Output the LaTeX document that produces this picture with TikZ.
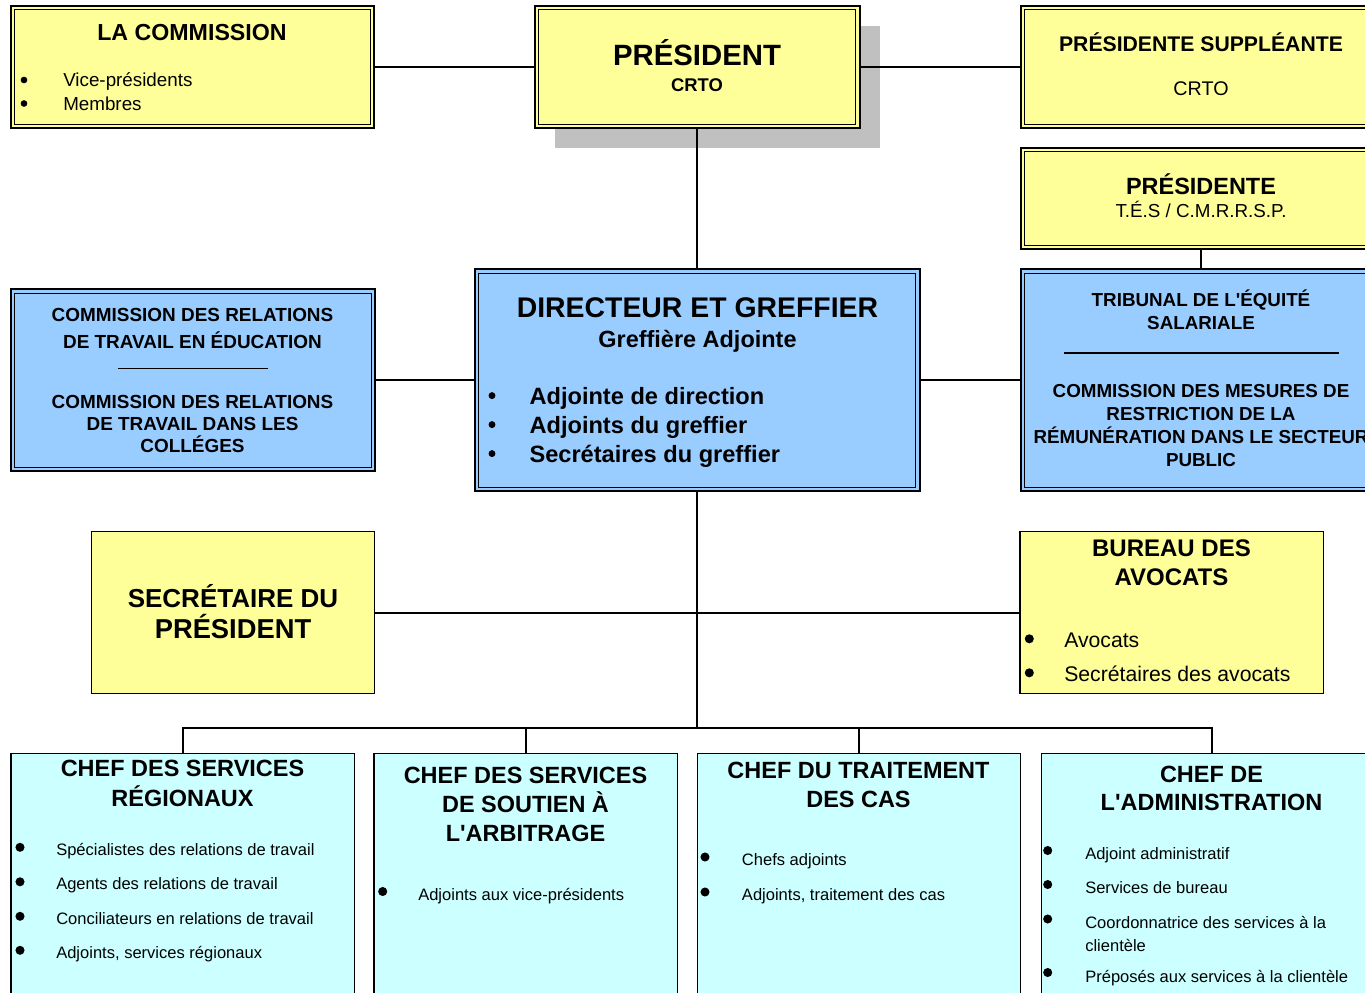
\documentclass[tikz,border=0pt]{standalone}
\usepackage{fontspec}
\setmainfont{Liberation Sans}
\usepackage{xcolor}
\usetikzlibrary{positioning,fit,shadows}

\definecolor{boxyellow}{HTML}{FFFF99}
\definecolor{boxblue}{HTML}{99CCFF}
\definecolor{boxcyan}{HTML}{CCFFFF}
\definecolor{shadowgray}{HTML}{C0C0C0}

\newcommand{\fsz}[2]{\fontsize{#1}{#2}\selectfont}
\newcommand{\apos}{\textquotesingle}

\tikzset{%
     boxframe/.style = { draw, line width=1.1pt, inner sep=0pt },
     dblframe/.style = { boxframe, line width=1.5pt,
                         path picture={\draw[line width=0.7pt]
                           ([shift={(2.8pt,-2.8pt)}]path picture bounding box.north west) rectangle
                           ([shift={(-2.8pt,2.8pt)}]path picture bounding box.south east);} },
       shadowed/.style = { drop shadow={shadow xshift=15pt, shadow yshift=-15pt, fill=shadowgray, opacity=1} },
         link/.style = { line width=1.5pt },
      divider/.style = { line width=1.1pt },
       boxtitle/.style = { inner sep=0pt, anchor=base, align=center },
      listitem/.style = { inner sep=0pt, anchor=base west, align=left }
}

\begin{document}
\begin{tikzpicture}[x=0.75pt, y=-0.75pt]
  \useasboundingbox (0,0) rectangle (1365,993);

  % top row
  \node[dblframe, fill=boxyellow, fit={(10.7,6) (374,128)}] (comm) {};
  \node[dblframe, shadowed, fill=boxyellow, fit={(535,6) (859.5,128)}] (pres) {};
  \node[dblframe, fill=boxyellow, fit={(1020.7,6) (1382,128)}] (supp) {};
  \node[dblframe, fill=boxyellow, fit={(1020.7,148) (1382,249)}] (tes) {};

  % middle rows
  \node[dblframe, fill=boxblue, fit={(10.7,289.3) (375,470.7)}] (crt) {};
  \node[dblframe, fill=boxblue, fit={(475,269.3) (919.5,490.7)}] (dir) {};
  \node[dblframe, fill=boxblue, fit={(1020.7,269.3) (1382,490.7)}] (trib) {};
  \node[boxframe, fill=boxyellow, fit={(91.7,531.7) (374.3,693.3)}] (secr) {};
  \node[boxframe, fill=boxyellow, fit={(1020,531.7) (1323.3,693.3)}] (bur) {};

  % bottom row
  \node[boxframe, fill=boxcyan, fit={(11,753.3) (354.3,1010)}] (reg) {};
  \node[boxframe, fill=boxcyan, fit={(374,753.3) (677.3,1010)}] (arb) {};
  \node[boxframe, fill=boxcyan, fit={(697.3,753.3) (1020.7,1010)}] (cas) {};
  \node[boxframe, fill=boxcyan, fit={(1041.7,753.3) (1382,1010)}] (adm) {};

  % connectors
  \draw[link] (comm.east) -- (pres.west);
  \draw[link] (pres.east) -- (supp.west);
  \draw[link] (pres.south) -- (dir.north);
  \draw[link] (tes.south) -- (trib.north);
  \draw[link] (crt.east) -- (dir.west);
  \draw[link] (dir.east) -- (trib.west);
  \draw[link] (secr.east) -- (bur.west);
  \coordinate (bus) at (697.25,728);
  \draw[link] (dir.south) -- (bus);
  \draw[link] (reg.north) |- (bus) -| (adm.north);
  \draw[link] (arb.north) -- (arb.north |- bus);
  \draw[link] (cas.north) -- (cas.north |- bus);

  % texts (multi-line titles sit on the baseline of their last line)
  \node[boxtitle, font=\bfseries\fsz{17.4}{21}] (commT) at (192,40) {LA COMMISSION};
  \foreach \y/\t [count=\i] in {86.5/Vice-présidents, 110/Membres}{
    \fill (24,\y-6.5) circle[radius=2.5pt];
    \node[listitem, font=\fsz{14.1}{17}] (commI\i) at (63,\y) {\t};
  }

  \node[boxtitle, font=\bfseries\fsz{22}{26}] (presT) at (697,65) {PRÉSIDENT};
  \node[boxtitle, font=\bfseries\fsz{13.8}{16}] (presS) at (697,91) {CRTO};

  \node[boxtitle, font=\bfseries\fsz{15.9}{19}] (suppT) at (1201,51) {PRÉSIDENTE SUPPLÉANTE};
  \node[boxtitle, font=\fsz{14.8}{18}] (suppS) at (1201,95) {CRTO};

  \node[boxtitle, font=\bfseries\fsz{17.6}{21}] (tesT) at (1201,194) {PRÉSIDENTE};
  \node[boxtitle, font=\fsz{14.1}{17}] (tesS) at (1201,217) {T.É.S / C.M.R.R.S.P.};

  \node[boxtitle, font=\bfseries\fsz{14.1}{17.25}] (tribA) at (1201,329) {TRIBUNAL DE L\apos ÉQUITÉ\\SALARIALE};
  \draw[divider] (1064,353) -- (1339,353);
  \node[boxtitle, font=\bfseries\fsz{14.1}{17.25}] (tribB) at (1201,466)
    {COMMISSION DES MESURES DE\\RESTRICTION DE LA\\RÉMUNÉRATION DANS LE SECTEUR\\PUBLIC};

  \node[boxtitle, font=\bfseries\fsz{14.2}{20.25}] (crtA) at (192.5,348) {COMMISSION DES RELATIONS\\DE TRAVAIL EN ÉDUCATION};
  \draw[divider, line width=0.8pt] (118,368.5) -- (268,368.5);
  \node[boxtitle, font=\bfseries\fsz{14.2}{16.5}] (crtB) at (192.5,452) {COMMISSION DES RELATIONS\\DE TRAVAIL DANS LES\\COLLÉGES};

  \node[boxtitle, font=\bfseries\fsz{21.3}{25}] (dirT) at (697.5,317) {DIRECTEUR ET GREFFIER};
  \node[boxtitle, font=\bfseries\fsz{17.6}{21}] (dirS) at (697.5,347) {Greffière Adjointe};
  \foreach \y/\t [count=\i] in {404/Adjointe de direction, 433/Adjoints du greffier, 462/Secrétaires du greffier}{
    \fill (492,\y-8.4) circle[radius=2.6pt];
    \node[listitem, font=\bfseries\fsz{17.7}{21}] (dirI\i) at (529.3,\y) {\t};
  }

  \node[boxtitle, font=\bfseries\fsz{19.5}{23.25}] (secrT) at (233,638) {SECRÉTAIRE DU\\{\fsz{20.5}{23.25}PRÉSIDENT}};

  \node[boxtitle, font=\bfseries\fsz{18}{21.75}] (burT) at (1171.5,585) {BUREAU DES\\AVOCATS};
  \foreach \y/\t [count=\i] in {647/Avocats, 681/Secrétaires des avocats}{
    \fill (1029.3,\y-8.2) circle[radius=3.4pt];
    \node[listitem, font=\fsz{15.9}{19}] (burI\i) at (1064,\y) {\t};
  }

  \node[boxtitle, font=\bfseries\fsz{17.6}{22.5}] (regT) at (182.5,806) {CHEF DES SERVICES\\RÉGIONAUX};
  \foreach \y/\t [count=\i] in {855/Spécialistes des relations de travail, 889.5/Agents des relations de travail,
                                924/Conciliateurs en relations de travail, 958/{Adjoints, services régionaux}}{
    \fill (20,\y-7.7) circle[radius=3.4pt];
    \node[listitem, font=\fsz{12.4}{15}] (regI\i) at (56,\y) {\t};
  }

  \node[boxtitle, font=\bfseries\fsz{17.6}{21.4}] (arbT) at (525.5,841) {CHEF DES SERVICES\\DE SOUTIEN À\\L\apos ARBITRAGE};
  \fill (382.7,891.5) circle[radius=3.4pt];
  \node[listitem, font=\fsz{12.4}{15}] (arbI1) at (418,900) {Adjoints aux vice-présidents};

  \node[boxtitle, font=\bfseries\fsz{17.6}{21.75}] (casT) at (858.5,807) {CHEF DU TRAITEMENT\\DES CAS};
  \foreach \y/\t [count=\i] in {865/Chefs adjoints, 900/{Adjoints, traitement des cas}}{
    \fill (705,\y-8) circle[radius=3.4pt];
    \node[listitem, font=\fsz{12.4}{15}] (casI\i) at (741.7,\y) {\t};
  }

  \node[boxtitle, font=\bfseries\fsz{17.6}{21}] (admT) at (1211.5,810) {CHEF DE\\L\apos ADMINISTRATION};
  \foreach \b/\y/\t [count=\i] in {850.5/859/Adjoint administratif, 884.5/893/Services de bureau,
                                   919/951/{Coordonnatrice des services à la\\clientèle},
                                   972.5/982/Préposés aux services à la clientèle}{
    \fill (1047.7,\b) circle[radius=3.4pt];
    \node[listitem, font=\fsz{12.4}{17.25}] (admI\i) at (1085,\y) {\t};
  }
\end{tikzpicture}
\end{document}
